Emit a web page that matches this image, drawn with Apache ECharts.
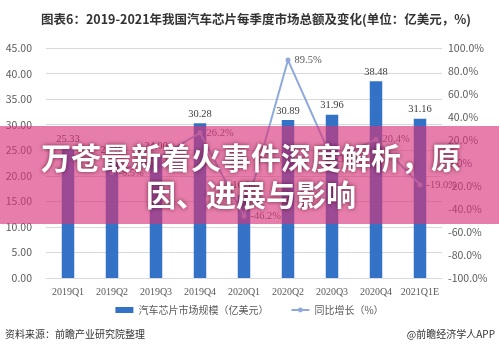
<!DOCTYPE html>
<html lang="zh">
<head>
  <meta charset="UTF-8">
  <title>汽车芯片每季度市场总额 - ECharts</title>
  <script src="https://cdn.jsdelivr.net/npm/echarts@6/dist/echarts.min.js"></script>
  <style>
    body { margin: 0; background: #fff; }
  </style>
</head>
<body>
  <div id="main" style="width: 499px; height: 352px;"></div>

  <script>
    // chart data
    const categories = ['2019Q1', '2019Q2', '2019Q3', '2019Q4', '2020Q1', '2020Q2', '2020Q3', '2020Q4', '2021Q1E'];
    const marketSize = [25.33, 23.18, 24.00, 30.28, 16.30, 30.89, 31.96, 38.48, 31.16];
    const growth = [null, -8.5, 3.5, 26.2, -46.2, 89.5, 3.5, 20.4, -19.0];

    const titleText = '图表6：2019-2021年我国汽车芯片每季度市场总额及变化(单位：亿美元，%)';
    const bannerLines = ['万苍最新着火事件深度解析，原', '因、进展与影响'];

    const sans = '"Noto Sans CJK SC", "Noto Sans", sans-serif';
    const serif = '"Liberation Serif", "Noto Sans CJK SC", serif';

    let myChart = echarts.init(document.getElementById('main'));

    // banner text style shared by both lines
    const bannerStyle = {
      align: 'center',
      verticalAlign: 'middle',
      fontSize: 30,
      fontWeight: 'bold',
      fill: '#fff',
      fontFamily: sans,
      textShadowColor: 'rgba(60, 0, 30, 0.7)',
      textShadowBlur: 4
    };

    const options = {
      animation: false,
      textStyle: { fontFamily: sans },
      title: {
        text: titleText,
        left: 36,
        top: 8,
        textStyle: { fontSize: 12.5, fontWeight: 'bold', color: '#333', fontFamily: sans }
      },
      legend: {
        bottom: 32,
        left: 'center',
        itemGap: 22,
        itemWidth: 18,
        itemHeight: 6,
        textStyle: { fontSize: 10, color: '#595959' },
        data: [
          { name: '汽车芯片市场规模（亿美元）', icon: 'rect' },
          { name: '同比增长（%）' }
        ]
      },
      grid: { left: 46, right: 57, top: 48, bottom: 74, containLabel: false },
      xAxis: {
        type: 'category',
        data: categories,
        axisTick: { show: false },
        axisLine: { lineStyle: { color: '#d9d9d9' } },
        axisLabel: { interval: 0, fontSize: 10, color: '#595959', fontFamily: serif, margin: 9 }
      },
      yAxis: [
        {
          type: 'value',
          min: 0,
          max: 45,
          interval: 5,
          axisLine: { show: false },
          axisTick: { show: false },
          splitLine: { lineStyle: { color: '#d9d9d9' } },
          axisLabel: {
            fontSize: 10.5,
            color: '#595959',
            margin: 14,
            formatter: v => v.toFixed(2)
          }
        },
        {
          type: 'value',
          min: -100,
          max: 100,
          interval: 20,
          axisLine: { show: false },
          axisTick: { show: false },
          splitLine: { show: false },
          axisLabel: {
            fontSize: 10.5,
            color: '#595959',
            margin: 6,
            formatter: v => v.toFixed(1) + '%'
          }
        }
      ],
      series: [
        {
          name: '汽车芯片市场规模（亿美元）',
          type: 'bar',
          data: marketSize,
          barWidth: 12.5,
          itemStyle: { color: '#3472c6' },
          label: {
            show: true,
            position: 'top',
            distance: 4,
            fontSize: 10.5,
            color: '#404040',
            fontFamily: serif,
            formatter: p => p.value.toFixed(2)
          }
        },
        {
          name: '同比增长（%）',
          type: 'line',
          yAxisIndex: 1,
          data: growth,
          symbol: 'circle',
          symbolSize: 5,
          lineStyle: { color: '#8eaadb', width: 2 },
          itemStyle: { color: '#8eaadb' },
          label: {
            show: true,
            position: 'right',
            distance: 4,
            fontSize: 10.5,
            color: '#595959',
            fontFamily: serif,
            formatter: p => p.value.toFixed(1) + '%'
          }
        }
      ],
      graphic: [
        {
          type: 'text',
          left: 5,
          top: 329,
          style: { text: '资料来源：前瞻产业研究院整理', fontSize: 10, fill: '#333', fontFamily: sans }
        },
        {
          type: 'text',
          right: 4,
          top: 329,
          style: { text: '@前瞻经济学人APP', fontSize: 10, fill: '#333', fontFamily: sans }
        },
        {
          type: 'rect',
          z: 100,
          shape: { x: 0, y: 126, width: 499, height: 98 },
          style: { fill: 'rgba(217, 52, 122, 0.64)' }
        },
        {
          type: 'text',
          z: 101,
          x: 251,
          y: 158,
          style: Object.assign({ text: bannerLines[0] }, bannerStyle)
        },
        {
          type: 'text',
          z: 101,
          x: 251,
          y: 195,
          style: Object.assign({ text: bannerLines[1] }, bannerStyle)
        }
      ]
    };

    myChart.setOption(options);
  </script>
</body>
</html>
